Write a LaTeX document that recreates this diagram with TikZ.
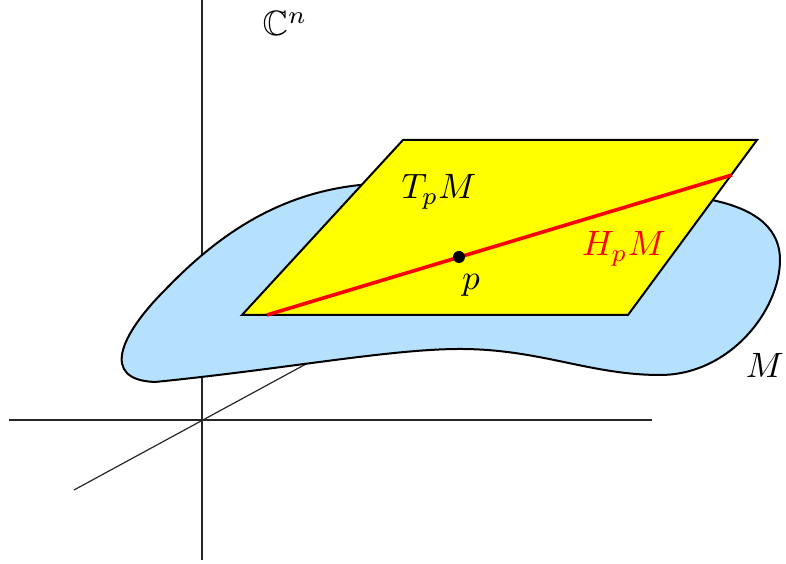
\documentclass[tikz,border=0pt]{standalone}
\usepackage{amssymb}
\definecolor{blobblue}{RGB}{181,225,255}
\definecolor{planeyellow}{RGB}{255,255,0}
\definecolor{linered}{RGB}{255,0,0}
\begin{document}
\begin{tikzpicture}[x=0.25pt,y=-0.25pt,
  axis/.style={line width=0.3pt,black!85},
  outline/.style={line width=0.5pt,black},
  lbl/.style={inner sep=0pt,anchor=base,scale=0.88}]
\useasboundingbox (0,0) rectangle (786,564);
% axes
\coordinate (vtop) at (202,0);
\coordinate (vbot) at (202,560);
\coordinate (hl) at (9,420);
\coordinate (hr) at (652,420);
\coordinate (dl) at (74,490);
\coordinate (dr) at (330,351);
\draw[axis] (vtop) -- (vbot);
\draw[axis] (hl) -- (hr);
\draw[axis] (dl) -- (dr);
% manifold M
\draw[outline,fill=blobblue]
  (155,382) .. controls (285,369) and (390,349) .. (460,349)
  .. controls (540,349) and (590,375) .. (660,375)
  .. controls (730,375) and (780,310) .. (780,260)
  .. controls (780,222) and (745,207) .. (712,200)
  .. controls (620,178) and (430,178) .. (360,185)
  .. controls (275,194) and (215,238) .. (165,290)
  .. controls (120,335) and (100,380) .. (155,382) -- cycle;
% tangent plane
\coordinate (t1) at (242,315);
\coordinate (t2) at (628,315);
\coordinate (t3) at (757,140);
\coordinate (t4) at (403,140);
\draw[outline,fill=planeyellow,line join=miter] (t1) -- (t2) -- (t3) -- (t4) -- cycle;
% complex tangent line
\coordinate (h1) at (267,315);
\coordinate (h2) at (732,175);
\draw[linered,line width=0.9pt] (h1) -- (h2);
\node[circle,fill=black,inner sep=0pt,minimum size=3pt] (p) at (459,257) {};
% labels
\node[lbl] (Cn) at (285,36) {$\mathbb{C}^n$};
\node[lbl] (TpM) at (439,199) {$T_pM$};
\node[lbl] (plbl) at (471,290) {$p$};
\node[lbl,text=linered] (HpM) at (624,256) {$H_pM$};
\node[lbl] (M) at (765,378) {$M$};
\end{tikzpicture}
\end{document}
